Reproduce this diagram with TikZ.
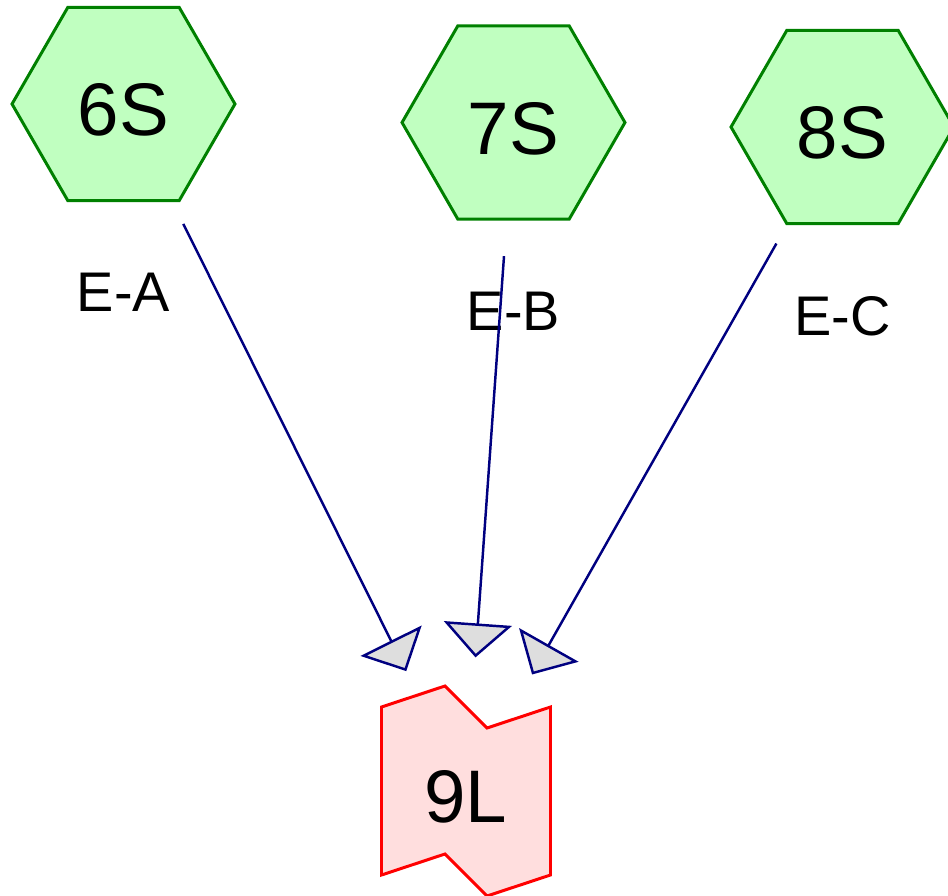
\documentclass[tikz,border=0pt]{standalone}
\usepackage{fontspec}
\setmainfont{Liberation Sans}
\usetikzlibrary{shapes.geometric,arrows.meta,positioning}
\definecolor{hexgreen}{RGB}{0,128,0}
\definecolor{hexfill}{RGB}{192,255,192}
\definecolor{tapered}{RGB}{255,0,0}
\definecolor{tapefill}{RGB}{255,222,222}
\definecolor{edgenavy}{RGB}{0,0,128}
\definecolor{tipgray}{RGB}{222,222,222}
\tikzset{
    source/.style={regular polygon, regular polygon sides=6, draw=hexgreen, fill=hexfill, line width=1.7pt, minimum size=4.46cm, inner sep=0pt, text height=1.28cm, font=\fontsize{42.4}{50}\selectfont},
    sink/.style={inner sep=0pt, minimum width=3.38cm, minimum height=3.36cm, text height=1.28cm, font=\fontsize{42.4}{50}\selectfont},
    tape/.style={draw=tapered, fill=tapefill, line width=1.7pt, line join=miter},
    flow/.style={draw=edgenavy, line width=1.4pt, -{Triangle[length=0.68cm, width=1.36cm, fill=tipgray]}, shorten <=2.68cm, shorten >=2.68cm},
    edgelabel/.style={font=\fontsize{31.8}{38}\selectfont, inner sep=0pt},
}

\begin{document}
\begin{tikzpicture}[x=0.02cm, y=-0.02cm]
    \useasboundingbox (0,0) rectangle (948,896);

    % Source hexagons with their labels
    \foreach \x/\y/\n/\e in {123.5/104/6/A, 513.5/122.5/7/B, 842.5/127/8/C} {
        \node[source] (S\n) at (\x, \y) {\n S};
        \node[edgelabel, below=1.42cm of S\n] (E\e) {E-\e};
    }

    % Sink tape
    \begin{scope}[shift={(466,791)}]
        \draw[tape] (-84.5,-84) -- (-21,-105) -- (21,-63) -- (84.5,-84)
            -- (84.5,84) -- (21,105) -- (-21,63) -- (-84.5,84) -- cycle;
    \end{scope}
    \node[sink] (L9) at (466, 791) {9L};

    % Edges into the sink
    \foreach \n in {6,7,8} {
        \draw[flow] (S\n.center) -- (L9.center);
    }
\end{tikzpicture}
\end{document}
